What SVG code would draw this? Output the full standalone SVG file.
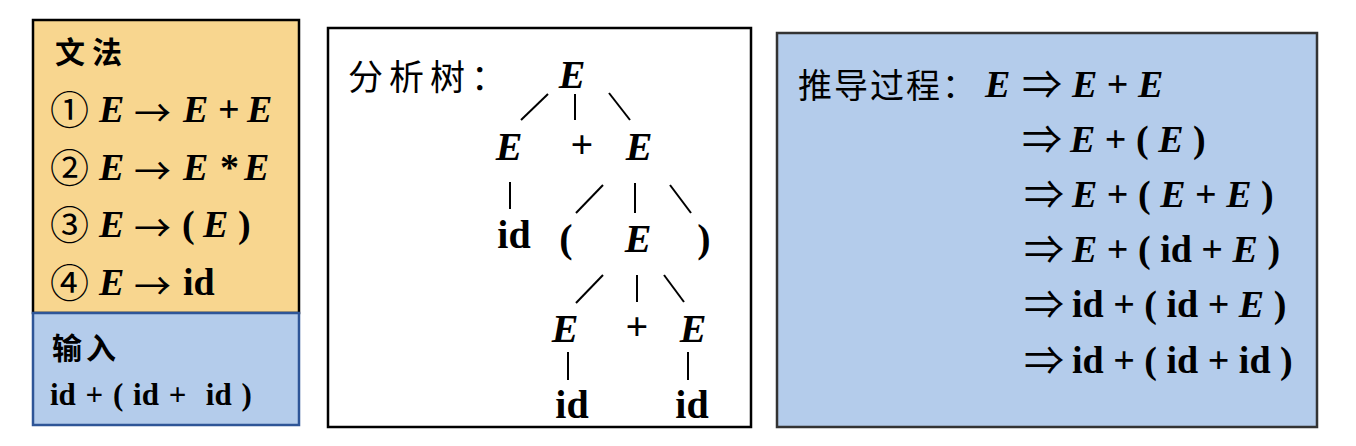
<svg xmlns="http://www.w3.org/2000/svg" width="1356" height="446" viewBox="0 0 1356 446">
<style>
.m{font-family:"Liberation Serif","Times New Roman",serif;font-weight:bold;fill:#000}
.i{font-style:italic}
.cj{font-family:"Noto Sans CJK SC","Noto Sans",sans-serif;fill:#000}
.ar{font-family:"Noto Sans CJK SC",sans-serif;font-weight:normal;font-style:normal;font-size:37px}
.dar{font-family:"Noto Sans CJK SC",sans-serif;font-weight:normal;font-size:40px}
.cd{font-family:"Noto Sans CJK SC",sans-serif;font-weight:normal;font-size:39px}
.g{font-size:38px}
.t{font-size:40px;text-anchor:middle}
.d{font-size:38px}
.ln{stroke:#000;stroke-width:2;fill:none}
</style>
<rect width="1356" height="446" fill="#fff"/>

<g id="grammar">
<rect x="33" y="20" width="266" height="293" fill="#F8D68F" stroke="#000" stroke-width="2.5"/>
<text class="cj" x="55" y="63" font-size="30" font-weight="bold" letter-spacing="7">文法</text>
<g class="m g">
<text class="cd" x="50" y="124">①</text>
<text x="99" y="122" class="i">E</text><text x="134" y="127" class="ar">→</text><text x="183" y="122" class="i">E</text><text x="218" y="122">+</text><text x="247" y="122" class="i">E</text>
<text class="cd" x="50" y="182">②</text>
<text x="99" y="180" class="i">E</text><text x="134" y="185" class="ar">→</text><text x="183" y="180" class="i">E</text><text x="220" y="180">*</text><text x="244" y="180" class="i">E</text>
<text class="cd" x="50" y="239">③</text>
<text x="99" y="237" class="i">E</text><text x="134" y="242" class="ar">→</text><text x="182" y="237">(</text><text x="203" y="237" class="i">E</text><text x="238" y="237">)</text>
<text class="cd" x="50" y="297">④</text>
<text x="99" y="295" class="i">E</text><text x="134" y="300" class="ar">→</text><text x="183" y="295">id</text>
</g>
</g>

<g id="input">
<rect x="33" y="313" width="266" height="112" fill="#B4CCEB" stroke="#2E5597" stroke-width="2.5"/>
<text class="cj" x="52" y="359" font-size="30" font-weight="bold" letter-spacing="4">输入</text>
<text class="m" x="50" y="405" font-size="31" word-spacing="2" xml:space="preserve">id + ( id +  id )</text>
</g>

<g id="parse-tree">
<rect x="328" y="28" width="423" height="399" fill="#fff" stroke="#000" stroke-width="2.5"/>
<text class="cj" x="348" y="90" font-size="35" letter-spacing="6">分析树：</text>
<g class="m t">
<text x="572" y="88" class="i">E</text>
<text x="509" y="160" class="i">E</text>
<text x="582" y="158">+</text>
<text x="639" y="160" class="i">E</text>
<text x="514" y="248">id</text>
<text x="566" y="252">(</text>
<text x="638" y="252" class="i">E</text>
<text x="704" y="252">)</text>
<text x="565" y="342" class="i">E</text>
<text x="637" y="340">+</text>
<text x="693" y="342" class="i">E</text>
<text x="572" y="418">id</text>
<text x="692" y="418">id</text>
</g>
</g>

<g id="connectors" class="ln">
<line x1="548" y1="94" x2="521" y2="120"/>
<line x1="575" y1="94" x2="575" y2="120"/>
<line x1="609" y1="93" x2="630" y2="120"/>
<line x1="510" y1="182" x2="510" y2="209"/>
<line x1="603" y1="185" x2="576" y2="213"/>
<line x1="635" y1="183" x2="635" y2="213"/>
<line x1="670" y1="185" x2="691" y2="213"/>
<line x1="603" y1="275" x2="576" y2="303"/>
<line x1="637" y1="275" x2="637" y2="302"/>
<line x1="664" y1="275" x2="684" y2="302"/>
<line x1="568" y1="352" x2="568" y2="380"/>
<line x1="688" y1="352" x2="688" y2="380"/>
</g>

<g id="derivation">
<rect x="777" y="33" width="540" height="394" fill="#B4CCEB" stroke="#333" stroke-width="2.5"/>
<text class="cj" x="798" y="98" font-size="34" letter-spacing="2">推导过程：</text>
<g class="m d">
<text x="985" y="97" class="i">E</text>
<text class="dar" x="1022" y="99">⇒</text>
<text x="1072" y="97"><tspan class="i">E</tspan> + <tspan class="i">E</tspan></text>
<text class="dar" x="1022" y="154">⇒</text>
<text x="1070" y="152"><tspan class="i">E</tspan> + ( <tspan class="i">E</tspan> )</text>
<text class="dar" x="1024" y="209">⇒</text>
<text x="1072" y="207"><tspan class="i">E</tspan> + ( <tspan class="i">E</tspan> + <tspan class="i">E</tspan> )</text>
<text class="dar" x="1024" y="264">⇒</text>
<text x="1072" y="262"><tspan class="i">E</tspan> + ( id + <tspan class="i">E</tspan> )</text>
<text class="dar" x="1024" y="319">⇒</text>
<text x="1072" y="317">id + ( id + <tspan class="i">E</tspan> )</text>
<text class="dar" x="1024" y="375">⇒</text>
<text x="1072" y="373">id + ( id + id )</text>
</g>
</g>
</svg>
